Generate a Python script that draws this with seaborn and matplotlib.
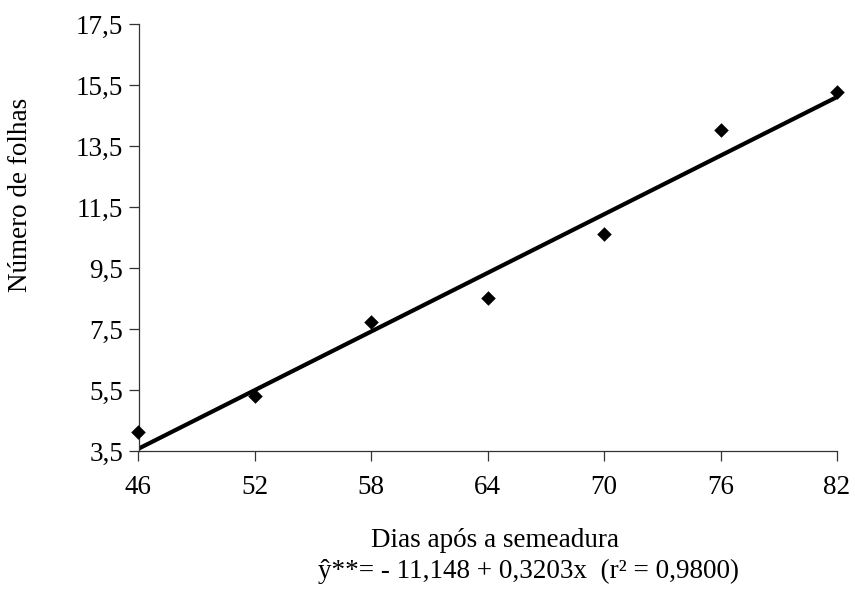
import matplotlib
matplotlib.use("Agg")
import matplotlib.pyplot as plt
import seaborn as sns
import pandas as pd

# Data
dias = [46, 52, 58, 64, 70, 76, 82]
folhas = [4.12, 5.31, 7.73, 8.52, 10.62, 14.04, 15.27]
intercepto = -11.148
inclinacao = 0.3203

x_ticks = [46, 52, 58, 64, 70, 76, 82]
x_tick_labels = ["46", "52", "58", "64", "70", "76", "82"]
y_ticks = [3.5, 5.5, 7.5, 9.5, 11.5, 13.5, 15.5, 17.5]
y_tick_labels = ["3,5", "5,5", "7,5", "9,5", "11,5", "13,5", "15,5", "17,5"]

x_label = "Dias após a semeadura"
y_label = "Número de folhas"
equacao = "ŷ**= - 11,148 + 0,3203x  (r² = 0,9800)"

sns.set_theme(style="white")
plt.rcParams["font.family"] = ["Liberation Serif", "DejaVu Serif"]
FS = 19.5

df = pd.DataFrame({"dias": dias, "folhas": folhas})
linha = pd.DataFrame({"dias": [dias[0], dias[-1]]})
linha["folhas"] = intercepto + inclinacao * linha["dias"]

fig = plt.figure(figsize=(8.55, 5.91), dpi=100)
ax = fig.add_axes([138.5 / 855, 1 - 451.3 / 591, (837 - 138.5) / 855, (451.3 - 24.3) / 591])

sns.lineplot(data=linha, x="dias", y="folhas", ax=ax, color="black", linewidth=3.0)
sns.scatterplot(data=df, x="dias", y="folhas", ax=ax, marker="D", s=55, color="black",
                edgecolor="black", linewidth=0, clip_on=False, zorder=5)

ax.set_xlim(46, 82)
ax.set_ylim(3.5, 17.5)
ax.set_xticks(x_ticks)
ax.set_xticklabels(x_tick_labels, fontsize=FS)
ax.set_yticks(y_ticks)
ax.set_yticklabels(y_tick_labels, fontsize=FS)

for side in ["top", "right"]:
    ax.spines[side].set_visible(False)
for side in ["left", "bottom"]:
    ax.spines[side].set_color("#333333")
    ax.spines[side].set_linewidth(0.9)

ax.tick_params(axis="both", which="major", direction="out", length=7, width=0.9,
               color="#333333", labelcolor="black", bottom=True, left=True)
ax.tick_params(axis="x", pad=10)
ax.tick_params(axis="y", pad=4)

ax.set_xlabel(x_label, fontsize=FS, color="black", va="top")
ax.xaxis.set_label_coords(0.51, -0.18)
ax.set_ylabel(y_label, fontsize=FS, color="black")
ax.yaxis.set_label_coords(-0.151, 0.60)

fig.text(528 / 855, 1 - 559 / 591, equacao, fontsize=FS, ha="center", va="top", color="black")

fig.savefig("out.png", dpi=100, facecolor="white")
